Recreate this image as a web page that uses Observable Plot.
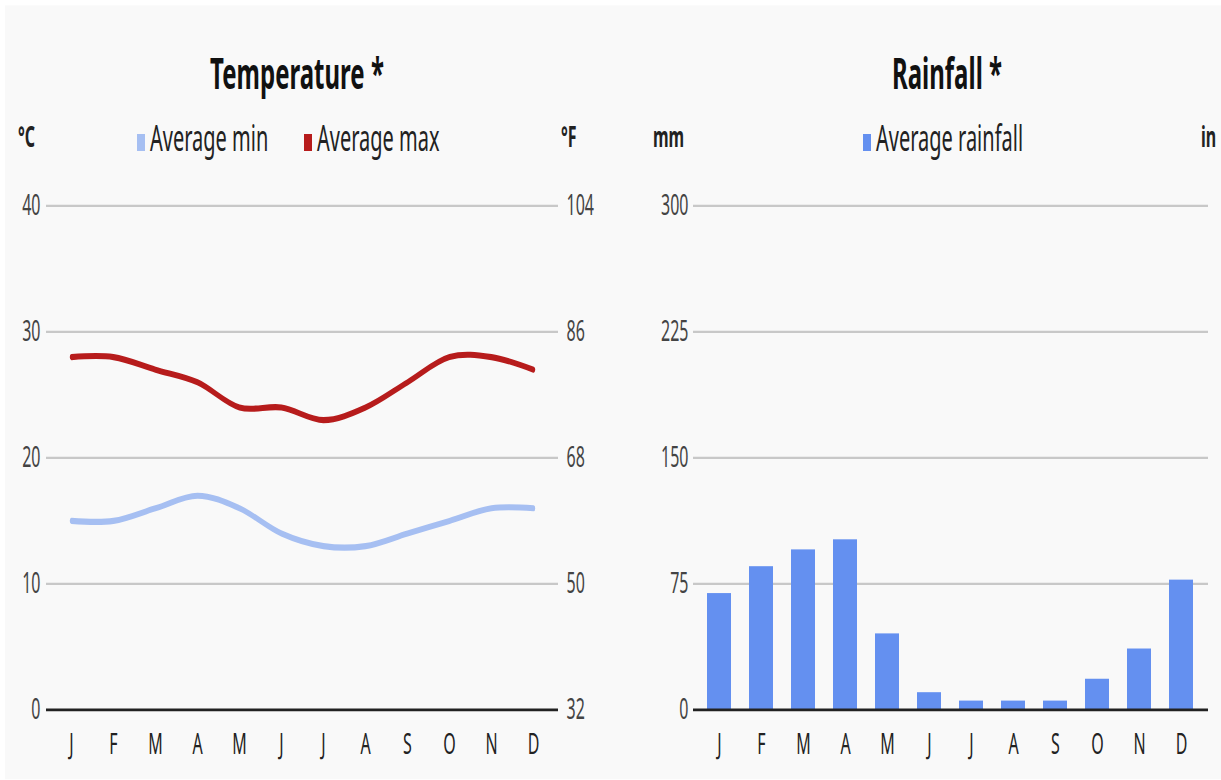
<!DOCTYPE html>
<html><head><meta charset="utf-8">
<script src="https://cdn.jsdelivr.net/npm/d3@7"></script>
<script src="https://cdn.jsdelivr.net/npm/@observablehq/plot@0.6"></script>
<style>
html,body{margin:0;padding:0;background:#fff;overflow:hidden;width:1221px;height:780px;}
#stage{position:absolute;left:0;top:0;width:1221px;height:433.333px;transform:scaleY(1.8);transform-origin:0 0;font-family:"Noto Sans",sans-serif;overflow:hidden;}
#bg{position:absolute;left:5px;top:3.4px;right:0;bottom:0;background:#f9f9f9;}
.layer{position:absolute;top:0;}
</style></head><body>
<div id="stage"><div id="bg"></div></div>
<script>
// ---- data ----
const monthNames = ["Jan","Feb","Mar","Apr","May","Jun","Jul","Aug","Sep","Oct","Nov","Dec"];
const monthLetters = ["J","F","M","A","M","J","J","A","S","O","N","D"];
const tempMin = [15,15,16,17,16,14,13,13,14,15,16,16];
const tempMax = [28,28,27,26,24,24,23,24,26,28,28,27];
const rainfall = [69,85,95,101,45,10,5,5,5,18,36,77];
const celsiusTicks = [0,10,20,30,40];
const rainTicks = [0,75,150,225,300];
const titles = ["Temperature *","Rainfall *"];
const legendLabels = ["Average min","Average max","Average rainfall"];
const unitLabels = ["°C","°F","mm","in"];
const colors = {min:"#a6bff2", max:"#b71c1c", rain:"#6490f0"};

const K = 1.8;
const H = 780 / K;
const sy = v => v / K;
const letter = d => monthLetters[monthNames.indexOf(d)];

const minData = monthNames.map((m,i)=>({month:m, value:tempMin[i]}));
const maxData = monthNames.map((m,i)=>({month:m, value:tempMax[i]}));
const rainData = monthNames.map((m,i)=>({month:m, value:rainfall[i]}));

const stage = document.getElementById("stage");
const baseStyle = {background:"transparent", fontFamily:"'Noto Sans', sans-serif", fontSize:"16px", overflow:"visible"};

const tempPlot = Plot.plot({
  width: 610, height: H,
  marginTop: sy(205), marginBottom: H - sy(709), marginLeft: 46, marginRight: 52,
  style: baseStyle,
  x: {type:"point", domain: monthNames, padding: 0.5, label: null},
  y: {domain:[0,40], label: null},
  marks: [
    Plot.ruleY(celsiusTicks.filter(d=>d>0), {stroke:"#c8c8c8", strokeWidth:1.3}),
    Plot.axisY(celsiusTicks, {anchor:"left", tickSize:0, tickPadding:6, color:"#444", fontSize:16}),
    Plot.axisY(celsiusTicks, {anchor:"right", tickSize:0, tickPadding:8, color:"#444", fontSize:16, tickFormat: d => d*9/5+32}),
    Plot.axisX(monthNames, {anchor:"bottom", tickSize:0, tickPadding:13, color:"#222", fontSize:16, tickFormat: letter}),
    Plot.ruleY([0], {stroke:"#222", strokeWidth:1.6}),
    Plot.line(minData, {x:"month", y:"value", stroke:colors.min, strokeWidth:3.4, curve:"catmull-rom"}),
    Plot.line(maxData, {x:"month", y:"value", stroke:colors.max, strokeWidth:3.4, curve:"catmull-rom"})
  ]
});
tempPlot.classList.add("layer");
tempPlot.style.left = "0px";
stage.appendChild(tempPlot);

const rainPlot = Plot.plot({
  width: 611, height: H,
  marginTop: sy(205), marginBottom: H - sy(709), marginLeft: 83, marginRight: 13,
  style: baseStyle,
  x: {type:"band", domain: monthNames, paddingInner: 0.42, paddingOuter: 0.21, label: null},
  y: {domain:[0,300], label: null},
  marks: [
    Plot.ruleY(rainTicks.filter(d=>d>0), {stroke:"#c8c8c8", strokeWidth:1.3}),
    Plot.axisY(rainTicks, {anchor:"left", tickSize:0, tickPadding:5, color:"#444", fontSize:16}),
    Plot.axisX(monthNames, {anchor:"bottom", tickSize:0, tickPadding:13, color:"#222", fontSize:16, tickFormat: letter}),
    Plot.barY(rainData, {x:"month", y:"value", fill:colors.rain}),
    Plot.ruleY([0], {stroke:"#222", strokeWidth:1.6})
  ]
});
rainPlot.classList.add("layer");
rainPlot.style.left = "610px";
stage.appendChild(rainPlot);

// ---- titles, legends, unit labels ----
const svg = d3.select(stage).append("svg").attr("class","layer")
  .attr("width",1221).attr("height",H).style("left","0px")
  .style("font-family","'Noto Sans', sans-serif");
svg.append("text").attr("x",297).attr("y",sy(89)).attr("text-anchor","middle")
  .attr("font-weight","bold").attr("font-size",24).attr("fill","#111").text(titles[0]);
svg.append("text").attr("x",947).attr("y",sy(89)).attr("text-anchor","middle")
  .attr("font-weight","bold").attr("font-size",24).attr("fill","#111").text(titles[1]);

const legendItems = [
  {x:137, label:legendLabels[0], color:colors.min},
  {x:304, label:legendLabels[1], color:colors.max},
  {x:863, label:legendLabels[2], color:colors.rain}
];
legendItems.forEach(it => {
  svg.append("rect").attr("x",it.x).attr("y",sy(134)).attr("width",8).attr("height",sy(17)).attr("fill",it.color);
  svg.append("text").attr("x",it.x+13).attr("y",sy(151)).attr("font-size",20).attr("fill","#222").text(it.label);
});
const units = [{x:18,t:unitLabels[0]},{x:561,t:unitLabels[1]},{x:653,t:unitLabels[2]},{x:1201,t:unitLabels[3]}];
units.forEach(u => {
  svg.append("text").attr("x",u.x).attr("y",sy(147)).attr("font-weight","bold").attr("font-size",16).attr("fill","#222").text(u.t);
});
</script>
</body></html>
